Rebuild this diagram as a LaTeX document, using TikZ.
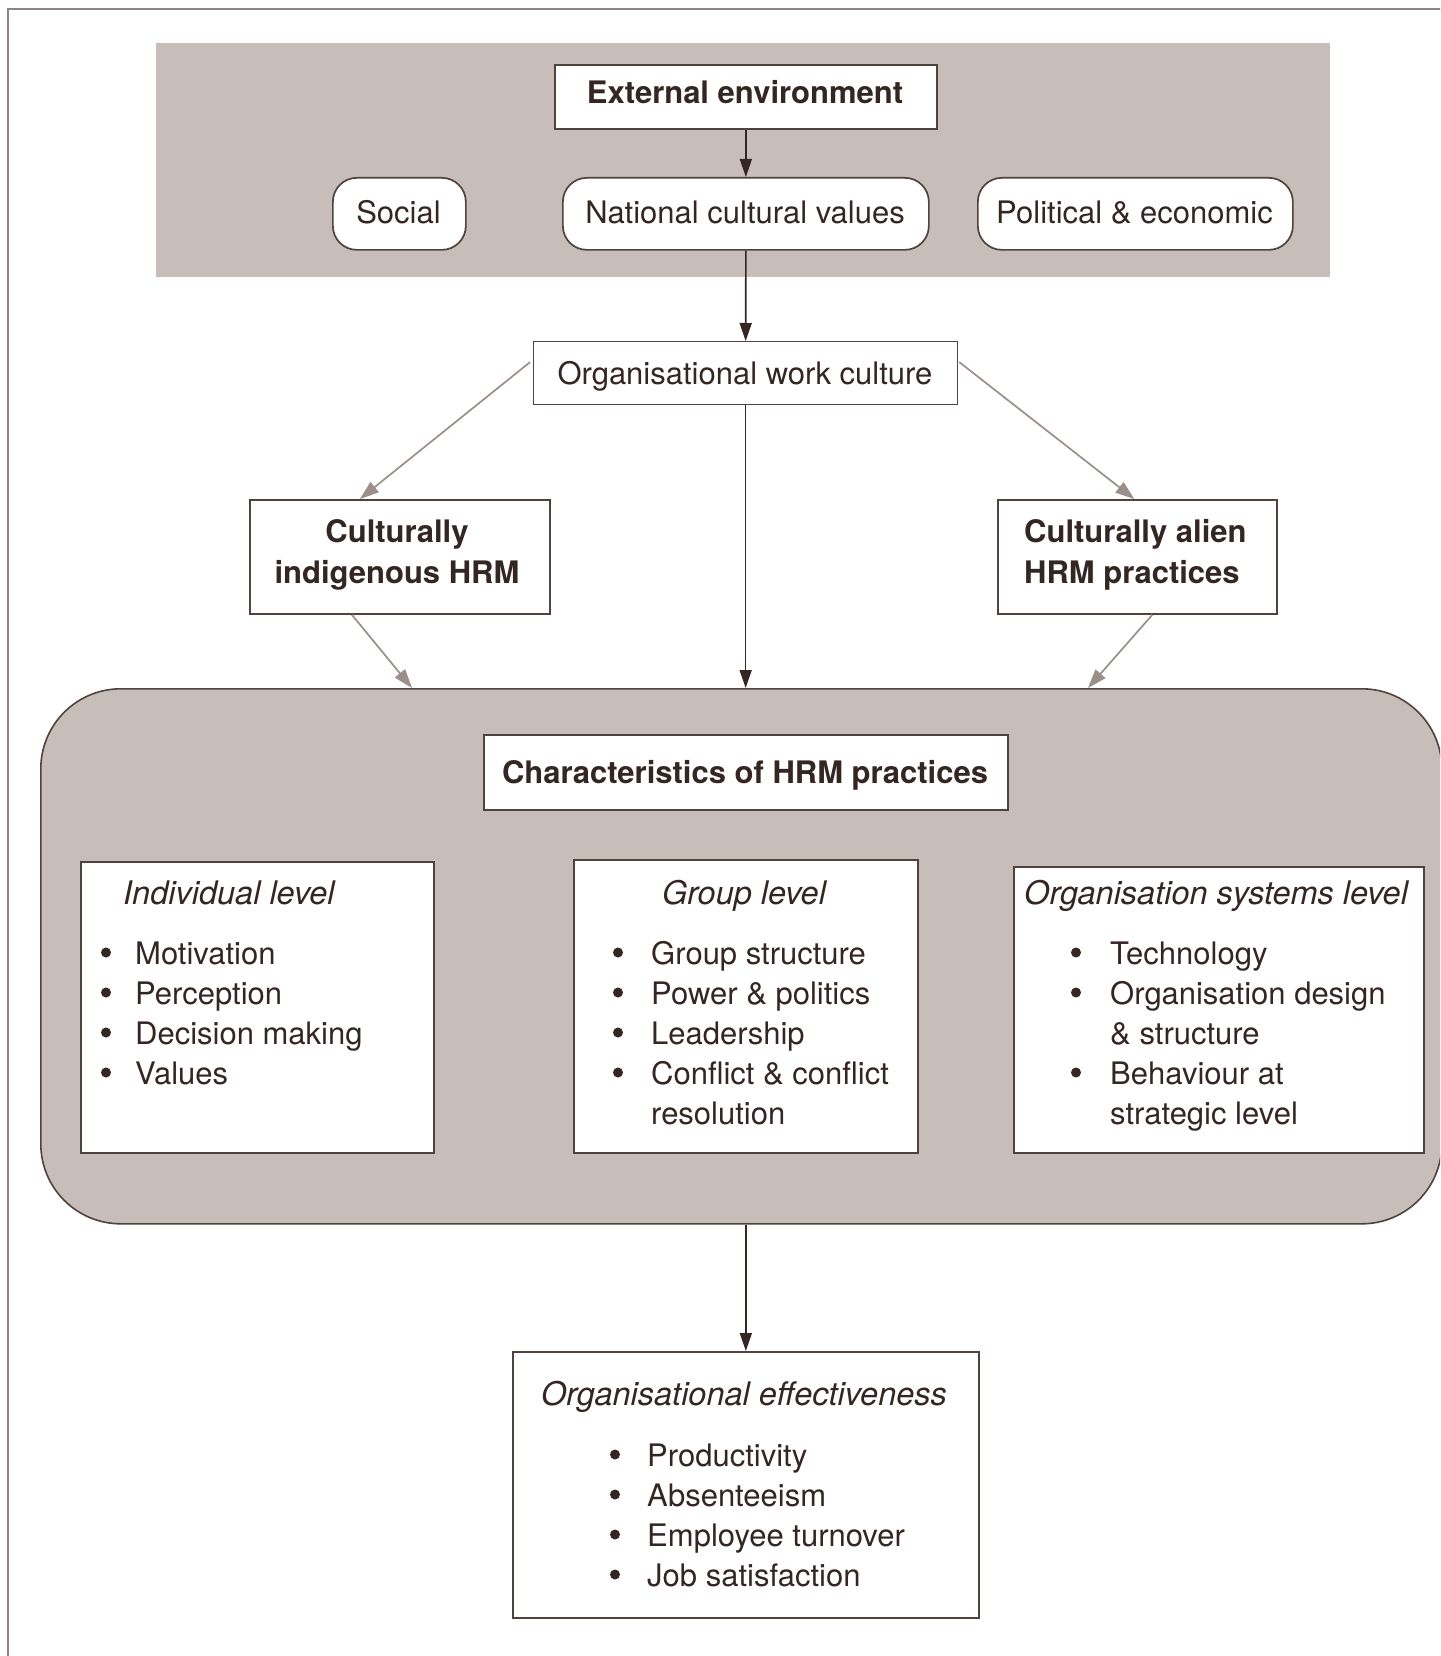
\documentclass[tikz,border=0pt]{standalone}
\usepackage{fontspec}
\setmainfont{TeX Gyre Heros}
\usetikzlibrary{arrows.meta,calc}
\definecolor{band}{RGB}{200,190,185}
\definecolor{ink}{RGB}{52,38,34}
\definecolor{edge}{RGB}{80,66,62}
\definecolor{soft}{RGB}{155,143,138}
\definecolor{framec}{RGB}{140,132,128}
\begin{document}
\begin{tikzpicture}[x=1pt,y=-1pt,
  fr/.style={font=\fontsize{31}{40}\selectfont},
  fb/.style={font=\fontsize{31}{40}\selectfont\bfseries},
  fi/.style={font=\fontsize{32.5}{40}\selectfont\itshape},
  box/.style={draw=edge, line width=1.7pt, fill=white, inner sep=0pt, anchor=north west},
  pill/.style={box, rounded corners=24pt},
  txt/.style={inner sep=0pt, anchor=base, text=ink},
  txtl/.style={inner sep=0pt, anchor=base west, text=ink},
  dot/.style={circle, fill=ink, inner sep=0pt, minimum size=10pt},
  darr/.style={draw=ink, line width=1.6pt, -{Triangle[length=18pt,width=12pt]}},
  garr/.style={draw=soft, line width=1.7pt, -{Triangle[length=19pt,width=13pt]}}]
\useasboundingbox (0,0) rectangle (1440,1656);
\clip (0,0) rectangle (1440,1656);
\fill[white] (0,0) rectangle (1440,1656);
% outer frame
\draw[framec, line width=2pt] (1450,9) -- (8,9) -- (8,1670);
% top band
\node[fill=band, inner sep=0pt, minimum width=1174pt, minimum height=234pt, anchor=north west] (band) at (156,43) {};
\node[box, minimum width=382pt, minimum height=64pt] (ext) at (554,64) {};
\node[txt, fb] (extT) at (745,104) {External environment};
\node[pill, minimum width=133pt, minimum height=72pt] (soc) at (332,177) {};
\node[txt, fr] (socT) at (398.5,223) {Social};
\node[pill, minimum width=366pt, minimum height=72pt] (nat) at (562,177) {};
\node[txt, fr] (natT) at (745,223) {National cultural values};
\node[pill, minimum width=315pt, minimum height=72pt] (pol) at (977,177) {};
\node[txt, fr] (polT) at (1134.5,223) {Political \& economic};
% organisational work culture
\node[box, line width=1.3pt, minimum width=424pt, minimum height=63pt] (owc) at (533,341) {};
\node[txt, fr] (owcT) at (745,384) {Organisational work culture};
% culturally indigenous / alien
\node[box, minimum width=300pt, minimum height=114pt] (ind) at (249,499) {};
\node[txt, fb] (indT1) at (397,542) {Culturally};
\node[txt, fb] (indT2) at (397,583) {indigenous HRM};
\node[box, minimum width=279pt, minimum height=114pt] (ali) at (997,499) {};
\node[txtl, fb] (aliT1) at (1024,542) {Culturally alien};
\node[txtl, fb] (aliT2) at (1024,583) {HRM practices};
% big rounded box
\node[draw=edge, fill=band, line width=1.6pt, rounded corners=80pt, inner sep=0pt, minimum width=1401pt, minimum height=535pt, anchor=north west] (big) at (40,688) {};
\node[box, minimum width=524pt, minimum height=75pt] (chr) at (483,734) {};
\node[txt, fb] (chrT) at (745,783) {Characteristics of HRM practices};
% individual level
\node[box, minimum width=353pt, minimum height=291pt] (ilv) at (80,861) {};
\node[txtl, fi] (ilvT) at (123,904) {Individual level};
\foreach \t [count=\i] in {Motivation, Perception, Decision making, Values} {
  \node[dot] (ilvB\i) at (106,{952.5+40*(\i-1)}) {};
  \node[txtl, fr] (ilvL\i) at (135,{964+40*(\i-1)}) {\t};
}
% group level
\node[box, minimum width=344pt, minimum height=293pt] (glv) at (573,859) {};
\node[txt, fi] (glvT) at (744,904) {Group level};
\foreach \t [count=\i] in {Group structure, Power \& politics, Leadership, Conflict \& conflict} {
  \node[dot] (glvB\i) at (618,{952.5+40*(\i-1)}) {};
  \node[txtl, fr] (glvL\i) at (651,{964+40*(\i-1)}) {\t};
}
\node[txtl, fr] (glvL5) at (651,1124) {resolution};
% organisation systems level
\node[box, minimum width=410pt, minimum height=286pt] (slv) at (1013,866) {};
\node[txtl, fi] (slvT) at (1024,904) {Organisation systems level};
\node[dot] (slvB1) at (1076,952.5) {};
\node[txtl, fr] (slvL1) at (1110,964) {Technology};
\node[dot] (slvB2) at (1076,992.5) {};
\node[txtl, fr] (slvL2) at (1110,1004) {Organisation design};
\node[txtl, fr] (slvL3) at (1110,1044) {\& structure};
\node[dot] (slvB4) at (1076,1072.5) {};
\node[txtl, fr] (slvL4) at (1110,1084) {Behaviour at};
\node[txtl, fr] (slvL5) at (1110,1124) {strategic level};
% organisational effectiveness
\node[box, minimum width=466pt, minimum height=266pt] (oe) at (512,1351) {};
\node[txt, fi] (oeT) at (744,1405) {Organisational effectiveness};
\foreach \t [count=\i] in {Productivity, Absenteeism, Employee turnover, Job satisfaction} {
  \node[dot] (oeB\i) at (615,{1454.5+40*(\i-1)}) {};
  \node[txtl, fr] (oeL\i) at (647,{1466+40*(\i-1)}) {\t};
}
% connectors
\draw[darr] (ext.south) -- (nat.north);
\draw[darr] (nat.south) -- (owc.north);
\draw[darr] (owc.south) -- (owc.south |- big.north);
\draw[darr] (big.south -| oe.north) -- (oe.north);
\draw[garr] ($(owc.west)+(-3,-11)$) -- ($(ind.north)+(-40,0)$);
\draw[garr] ($(owc.east)+(1,-11)$) -- ($(ali.north)+(-3,0)$);
\draw[garr] ($(ind.south)+(-48,0)$) -- ($(big.north west)+(372,0)$);
\draw[garr] ($(ali.south)+(15,0)$) -- ($(big.north west)+(1048,0)$);
\end{tikzpicture}
\end{document}
